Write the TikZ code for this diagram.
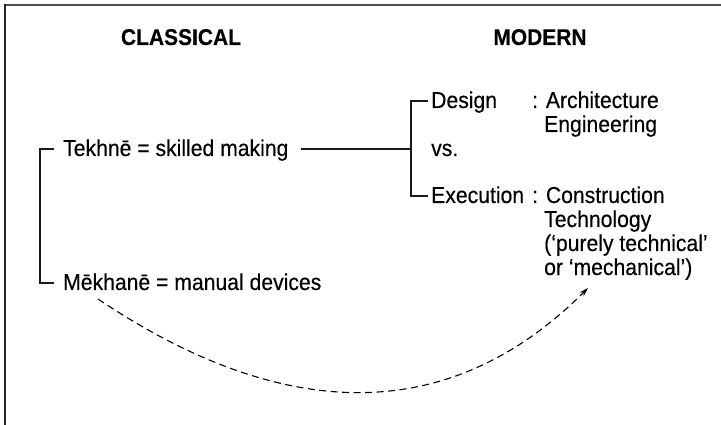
\documentclass[tikz,border=0pt]{standalone}
\usepackage{fontspec}
\setmainfont{Liberation Sans}[FakeStretch=0.92,FakeBold=0.3]
\usetikzlibrary{arrows.meta}
\begin{document}
\begin{tikzpicture}[x=1pt,y=-1pt,
  txt/.style={inner sep=0pt, anchor=base west, text height=15pt, text depth=1pt,
              font=\fontsize{23}{24}\selectfont},
  head/.style={inner sep=0pt, anchor=base, font=\fontsize{22.8}{24}\selectfont\bfseries},
  conn/.style={line width=1.1pt, black!90},
  curvearrow/.style={line width=1.1pt, dash pattern=on 7pt off 4.5pt,
                     -{Stealth[length=9pt,width=5.5pt]}}
]
\useasboundingbox (0,0) rectangle (721,425);
% frame
\draw[line width=1.8pt, black!70] (4,5) -- (721,5);
\draw[line width=1.8pt, black!85] (5,4.2) -- (5,425);

% headings
\node[head] (classical) at (181,45) {CLASSICAL};
\node[head] (modern) at (540,45) {MODERN};

% classical terms
\node[txt] (tekhne) at (63,156) {Tekhnē = skilled making};
\node[txt] (mekhane) at (63,290) {Mēkhanē = manual devices};

% modern terms
\node[txt] (design) at (431,108) {Design};
\node[txt] (arch) at (532,108) {: Architecture};
\node[txt] (eng) at (544,132) {Engineering};
\node[txt] (vs) at (431,156) {vs.};
\node[txt] (execution) at (431,203) {Execution};
\node[txt] (constr) at (532,203) {: Construction};
\node[txt] (techn) at (544,227) {Technology};
\node[txt] (purely) at (544,251) {(‘purely technical’};
\node[txt] (mech) at (544,275) {or ‘mechanical’)};

% left bracket
\draw[conn] ([xshift=-9pt]tekhne.west) -- ++(-14,0) |- ([xshift=-9pt]mekhane.west);

% right bracket
\coordinate (hub) at ([xshift=-20pt]design.west);
\draw[conn] ([xshift=-3pt]design.west) -- (hub) |- ([xshift=-3pt]execution.west);
\draw[conn] ([xshift=12pt]tekhne.east) -- (tekhne.east -| hub);

% dashed arrow from Mekhane to Technology
\coordinate (cstart) at (98,299);
\coordinate (cend) at (588,288);
\draw[curvearrow] (cstart) .. controls (286,425) and (451,425) .. (cend);
\end{tikzpicture}
\end{document}
